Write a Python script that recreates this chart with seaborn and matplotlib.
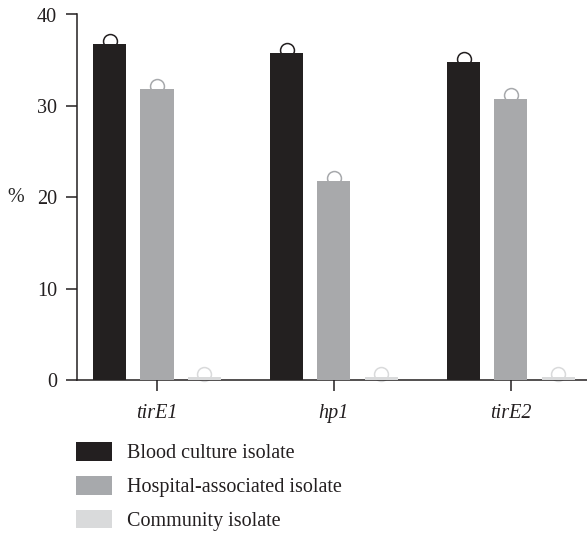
import numpy as np
import pandas as pd
import matplotlib
matplotlib.use("Agg")
import matplotlib.pyplot as plt
from matplotlib.patches import Patch
import seaborn as sns

genes = ["tirE1", "hp1", "tirE2"]
groups = ["Blood culture isolate", "Hospital-associated isolate", "Community isolate"]
blood = [36.8, 35.8, 34.8]
hospital = [31.8, 21.8, 30.8]
community = [0.3, 0.3, 0.3]
colors = ["#231f20", "#a7a9ac", "#d9dadb"]

df = pd.DataFrame({
    "gene": genes * 3,
    "group": [groups[0]] * 3 + [groups[1]] * 3 + [groups[2]] * 3,
    "pct": blood + hospital + community,
})

sns.set_style("ticks")
plt.rcParams["font.family"] = ["Liberation Serif", "DejaVu Serif"]
FS = 14.5

fig = plt.figure(figsize=(5.87, 5.33), dpi=100)
ax = fig.add_axes([77 / 587, 1 - 380 / 533, 1 - 77 / 587, (380 - 14.5) / 533])

sns.barplot(data=df, x="gene", y="pct", hue="group", hue_order=groups,
            palette=colors, width=0.8, gap=0.3, ax=ax, legend=False,
            errorbar=None, zorder=3, linewidth=0)

# open circle caps sitting behind each bar top
for cont, col in zip(ax.containers, colors):
    for bar in cont:
        xc = bar.get_x() + bar.get_width() / 2
        h = bar.get_height()
        ax.scatter([xc], [h + 0.35], s=100, facecolors="white", edgecolors=col,
                   linewidths=1.1, zorder=2, clip_on=False)

ax.set_xlim(-0.452, 2.43)
ax.set_ylim(0, 40)
ax.set_yticks([0, 10, 20, 30, 40])
ax.set_xlabel("")
ax.set_ylabel("%", rotation=0, fontsize=FS, va="center")
ax.yaxis.set_label_coords(-0.12, 0.5)
ax.tick_params(axis="both", length=8, width=1.1, color="#231f20", labelsize=FS,
               labelcolor="#231f20")
ax.tick_params(axis="y", pad=6.5)
ax.tick_params(axis="x", pad=9)
for lab in ax.get_xticklabels():
    lab.set_fontstyle("italic")
sns.despine(ax=ax)
for sp in ["left", "bottom"]:
    ax.spines[sp].set_linewidth(1.1)
    ax.spines[sp].set_color("#231f20")

handles = [Patch(facecolor=c, edgecolor="none") for c in colors]
fig.legend(handles, groups, loc="upper left", bbox_to_anchor=(76 / 587, 1 - 442 / 533),
           frameon=False, handlelength=1.8, handleheight=1.05, handletextpad=0.75,
           labelspacing=0.63, fontsize=FS, labelcolor="#231f20", borderaxespad=0,
           borderpad=0)

fig.savefig("out.png", dpi=100)
